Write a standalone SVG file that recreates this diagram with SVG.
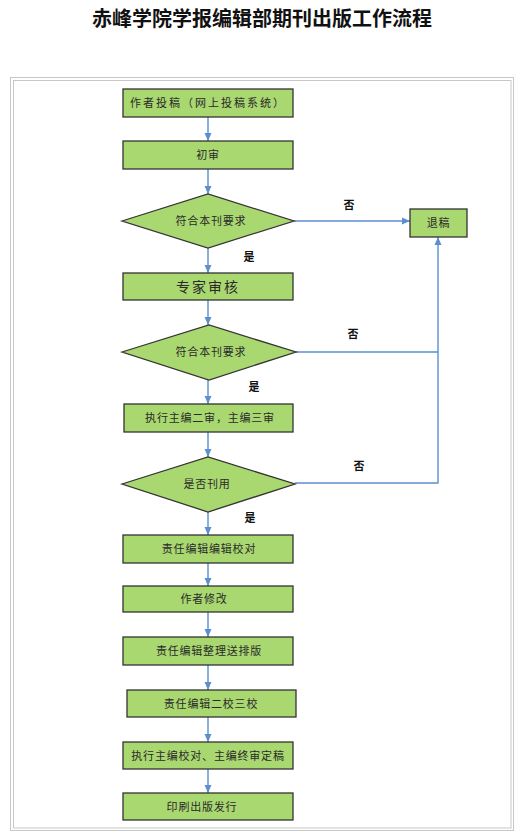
<svg xmlns="http://www.w3.org/2000/svg" width="524" height="840" viewBox="0 0 524 840">
<style>
.box{fill:#a9d770;stroke:#333;stroke-width:1.3}
.t{font-family:"Liberation Sans","Noto Sans CJK SC",sans-serif;font-size:11px;fill:#2a2a2a;text-anchor:middle;letter-spacing:0.8px}
.lbl{font-family:"Liberation Sans","Noto Sans CJK SC",sans-serif;font-size:11px;font-weight:bold;fill:#111;text-anchor:middle}
.c{fill:none;stroke:#5b8fd0;stroke-width:1.4}
.frame{fill:none;stroke:#c8c8c8;stroke-width:1}
</style>
<defs>
<marker id="ah" markerUnits="userSpaceOnUse" markerWidth="8" markerHeight="8" viewBox="0 0 8 8" refX="8" refY="4" orient="auto">
<path d="M0,0.5 L8,4 L0,7.5 Z" fill="#5b8fd0"/>
</marker>
</defs>
<rect width="524" height="840" fill="#fff"/>
<text x="262" y="26" font-family="Liberation Sans,'Noto Sans CJK SC',sans-serif" font-size="20" font-weight="bold" text-anchor="middle" fill="#111">赤峰学院学报编辑部期刊出版工作流程</text>
<rect class="frame" x="10.5" y="77.5" width="503" height="753"/>
<rect class="frame" x="13.5" y="80.5" width="497.5" height="747.5"/>
<g id="connectors">
<path class="c" d="M208,117 V141" marker-end="url(#ah)"/>
<path class="c" d="M208,169 V194" marker-end="url(#ah)"/>
<path class="c" d="M208,248 V273" marker-end="url(#ah)"/>
<path class="c" d="M208,300 V325" marker-end="url(#ah)"/>
<path class="c" d="M208,380 V404" marker-end="url(#ah)"/>
<path class="c" d="M208,432 V457" marker-end="url(#ah)"/>
<path class="c" d="M208,512 V535" marker-end="url(#ah)"/>
<path class="c" d="M208,563 V586" marker-end="url(#ah)"/>
<path class="c" d="M208,612 V637" marker-end="url(#ah)"/>
<path class="c" d="M208,665 V690" marker-end="url(#ah)"/>
<path class="c" d="M208,717 V742" marker-end="url(#ah)"/>
<path class="c" d="M208,769 V793" marker-end="url(#ah)"/>
<path class="c" d="M294,221 H410" marker-end="url(#ah)"/>
<path class="c" d="M296,352 H438"/>
<path class="c" d="M295,483 H438 V237" marker-end="url(#ah)"/>
<text class="lbl" x="349" y="209">否</text>
<text class="lbl" x="249" y="261">是</text>
<text class="lbl" x="353" y="338">否</text>
<text class="lbl" x="254" y="391">是</text>
<text class="lbl" x="359" y="470">否</text>
<text class="lbl" x="250" y="522">是</text>
</g>
<g id="n1"><rect class="box" x="123" y="89" width="170" height="28"/><text class="t" x="208" y="107" style="letter-spacing:2px">作者投稿（网上投稿系统）</text></g>
<g id="n2"><rect class="box" x="123" y="141" width="170" height="28"/><text class="t" x="208" y="159">初审</text></g>
<g id="d1"><path class="box" d="M122,221 L208,194 L294,221 L208,248 Z"/><text class="t" x="211" y="225">符合本刊要求</text></g>
<g id="n3"><rect class="box" x="410" y="209" width="57" height="28"/><text class="t" x="438.5" y="227">退稿</text></g>
<g id="n4"><rect class="box" x="123" y="273" width="170" height="27"/><text class="t" x="208" y="291.5" style="font-size:14px;letter-spacing:2px">专家审核</text></g>
<g id="d2"><path class="box" d="M122,352 L209,325 L296,352 L209,380 Z"/><text class="t" x="211" y="356">符合本刊要求</text></g>
<g id="n5"><rect class="box" x="124" y="404" width="169" height="28"/><text class="t" x="210" y="422">执行主编二审，主编三审</text></g>
<g id="d3"><path class="box" d="M122,484 L208,457 L295,484 L208,512 Z"/><text class="t" x="207" y="488">是否刊用</text></g>
<g id="n6"><rect class="box" x="123" y="535" width="170" height="28"/><text class="t" x="209" y="553">责任编辑编辑校对</text></g>
<g id="n7"><rect class="box" x="123" y="586" width="170" height="26"/><text class="t" x="204" y="603">作者修改</text></g>
<g id="n8"><rect class="box" x="123" y="637" width="170" height="28"/><text class="t" x="209" y="655">责任编辑整理送排版</text></g>
<g id="n9"><rect class="box" x="127" y="690" width="169" height="27"/><text class="t" x="211" y="707.5">责任编辑二校三校</text></g>
<g id="n10"><rect class="box" x="123" y="742" width="170" height="27"/><text class="t" x="208" y="759.5">执行主编校对、主编终审定稿</text></g>
<g id="n11"><rect class="box" x="123" y="793" width="170" height="27"/><text class="t" x="202" y="810.5">印刷出版发行</text></g>
</svg>
